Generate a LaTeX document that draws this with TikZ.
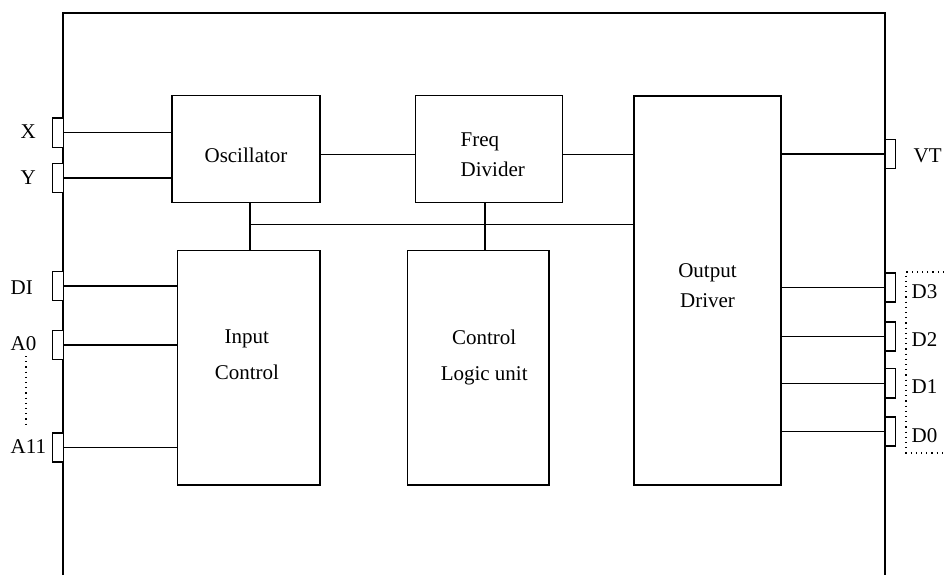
\documentclass[tikz,border=0pt]{standalone}
\usepackage{fontspec}
\setmainfont{Liberation Serif}
\usetikzlibrary{positioning}

\begin{document}
\begin{tikzpicture}[x=0.5pt, y=-0.5pt,
font=\fontsize{10.5}{15}\selectfont, line width=0.7pt,
block/.style={draw=black, inner sep=0pt},
pad/.style={draw=black, fill=white, minimum width=5.3pt, minimum height=14.6pt, inner sep=0pt},
txt/.style={align=center, inner sep=0pt},
padname/.style={anchor=west, inner sep=0pt},
]

\useasboundingbox (0,0) rectangle (944,575);

% chip outline
\draw[line width=1pt] (63,575) -- (63,13) -- (885,13) -- (885,575);

% blocks
\node[block, minimum width=74pt, minimum height=53.5pt,
  label={[txt, yshift=-3pt]center:Oscillator}] (osc) at (246,149.2) {};
\node[block, minimum width=73.5pt, minimum height=53.5pt,
  label={[txt, align=left, xshift=2pt, yshift=-2.8pt]center:Freq\\Divider}] (freq) at (488.8,149.2) {};
\node[block, minimum width=73.5pt, minimum height=194.6pt,
  label={[txt, yshift=2.3pt]center:Output\\Driver}] (out) at (707.5,290.4) {};
\node[block, minimum width=71.2pt, minimum height=117.2pt,
  label={[txt, xshift=-1pt, yshift=6.5pt]center:Input\\[3pt]Control}] (inp) at (248.9,367.9) {};
\node[block, minimum width=70.8pt, minimum height=117.2pt,
  label={[txt, xshift=3pt, yshift=5pt]center:Control\\[3pt]Logic unit}] (ctl) at (478.2,367.9) {};

% pads, left side
\node[pad] (x)   at (58,132.6) {};
\node[pad] (y)   at (58,178) {};
\node[pad] (di)  at (58,286) {};
\node[pad] (a0)  at (58,345) {};
\node[pad] (a11) at (58,447.5) {};
% pads, right side
\node[pad] (vt) at (890.3,154) {};
\node[pad] (d3) at (890.3,287.5) {};
\node[pad] (d2) at (890.3,336.4) {};
\node[pad] (d1) at (890.3,383.2) {};
\node[pad] (d0) at (890.3,431.5) {};

% pad names
\node[padname] (xname)   at (20,131.7) {X};
\node[padname] (yname)   at (20,177.3) {Y};
\node[padname] (diname)  at (10,287.5) {DI};
\node[padname] (a0name)  at (10,343.7) {A0};
\node[padname] (a11name) at (10,446.7) {A11};
\node[padname] (vtname) at (913,156) {VT};
\node[padname] (d3name) at (911,292) {D3};
\node[padname] (d2name) at (911,340) {D2};
\node[padname] (d1name) at (911,387) {D1};
\node[padname] (d0name) at (911,436) {D0};

% signal lines
\draw (x.east) to (x.east -| osc.west);
\draw (y.east) to (y.east -| osc.west);
\draw (di.east) to (di.east -| inp.west);
\draw (a0.east) to (a0.east -| inp.west);
\draw (a11.east) to (a11.east -| inp.west);

\coordinate (clk) at (0,154.7);
\draw (osc.east |- clk) to (freq.west |- clk);
\draw (freq.east |- clk) to (out.west |- clk);
\draw (out.east |- vt.west) to (vt.west);

\draw (out.east |- d3.west) to (d3.west);
\draw (out.east |- d2.west) to (d2.west);
\draw (out.east |- d1.west) to (d1.west);
\draw (out.east |- d0.west) to (d0.west);

% bus
\coordinate (busa) at (250,224.3);
\coordinate (busb) at (485,224.3);
\draw (busa |- osc.south) to (busa |- inp.north);
\draw (busb |- freq.south) to (busb |- ctl.north);
\draw (busa) to (busa -| out.west);

% dotted groups
\draw[dotted, line width=0.6pt] (26,356) to (26,426);
\draw[dotted, line width=0.6pt] (944,272) -- (906,272) -- (906,453) -- (944,453);

\end{tikzpicture}
\end{document}
